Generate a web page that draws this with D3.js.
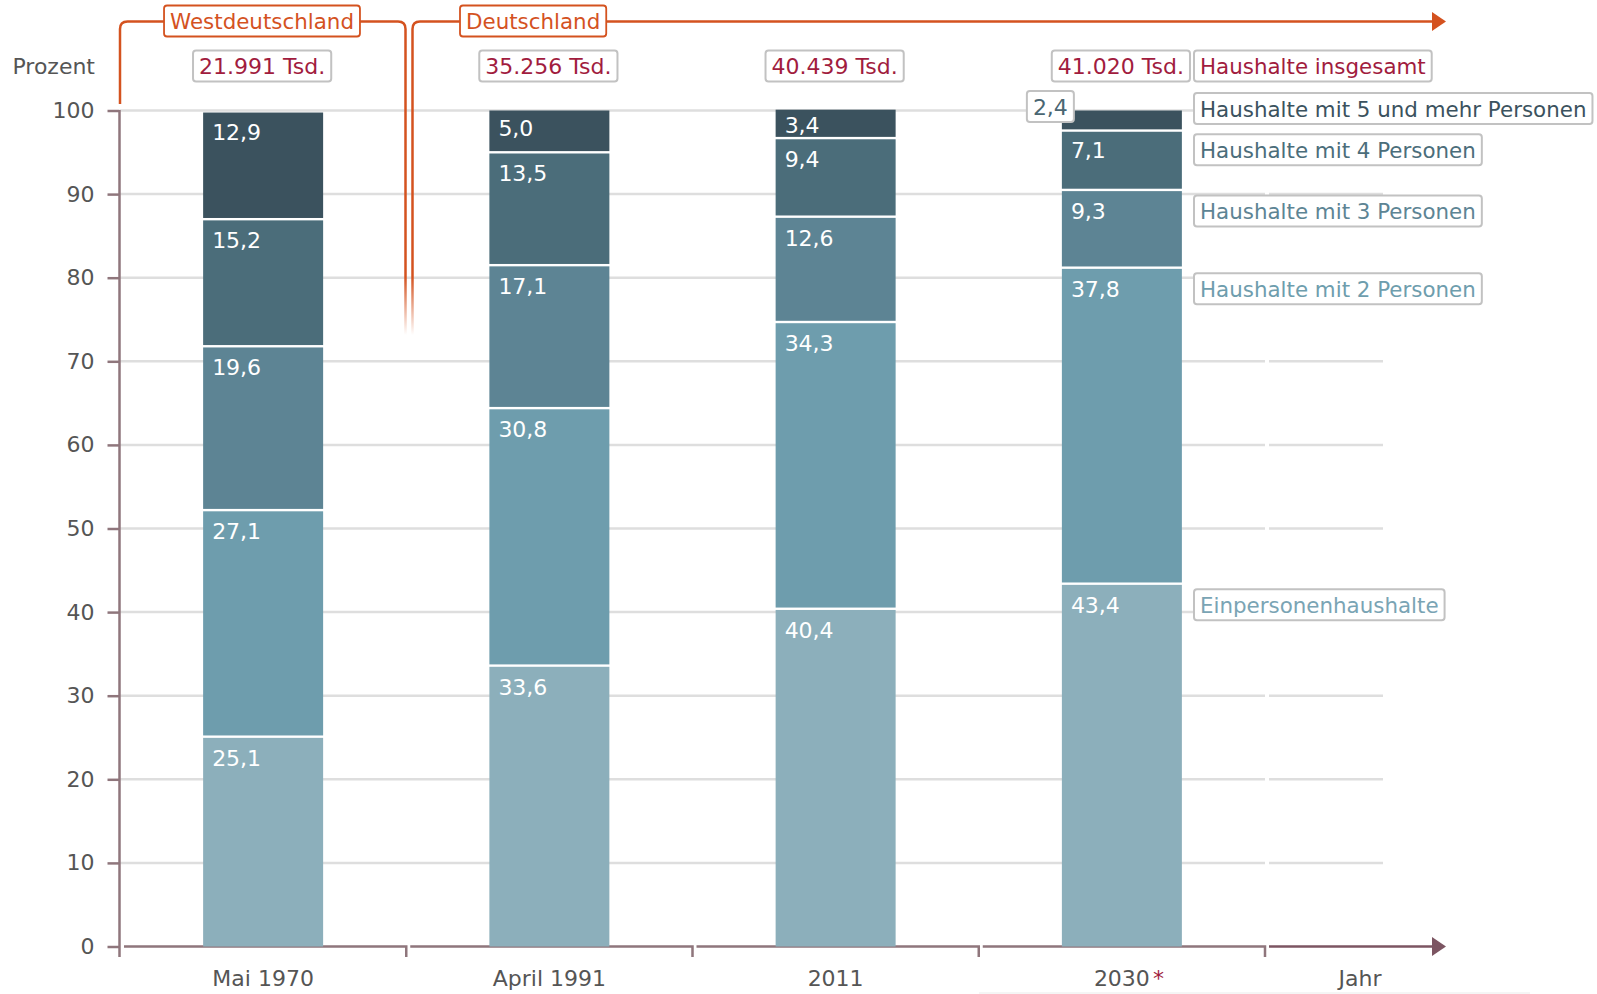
<!DOCTYPE html>
<html>
<head>
<meta charset="utf-8">
<script src="https://cdn.jsdelivr.net/npm/d3@7"></script>
<style>
  body { margin: 0; background: #fff; }
  svg text { font-family: "DejaVu Sans", Verdana, sans-serif; }
</style>
</head>
<body>
<svg id="chart" width="1597" height="994"></svg>
<script>
// Haushalte nach Haushaltsgroesse, Anteile in Prozent
const years = ["Mai 1970", "April 1991", "2011", "2030"];
const seriesNames = ["Einpersonenhaushalte", "Haushalte mit 2 Personen", "Haushalte mit 3 Personen",
                     "Haushalte mit 4 Personen", "Haushalte mit 5 und mehr Personen"];
const einPers = [25.1, 33.6, 40.4, 43.4];
const zweiPers = [27.1, 30.8, 34.3, 37.8];
const dreiPers = [19.6, 17.1, 12.6, 9.3];
const vierPers = [15.2, 13.5, 9.4, 7.1];
const fuenfPers = [12.9, 5.0, 3.4, 2.4];
const totals = ["21.991 Tsd.", "35.256 Tsd.", "40.439 Tsd.", "41.020 Tsd."];
const yTicks = [0, 10, 20, 30, 40, 50, 60, 70, 80, 90, 100];

const barColors = ["#8cafbb", "#6e9dad", "#5d8494", "#4b6d7a", "#3b525e"];
const legendColors = ["#7aa4b4", "#6e9dad", "#5d8494", "#4b6d7a", "#3b525e"];
const orange = "#d4521f", red = "#a11c3e", axisCol = "#8f767c", grey = "#555";
const fs = "22px", fsLegend = "21.4px";

const rows = years.map(function(y, i) {
  return {year: y, s0: einPers[i], s1: zweiPers[i], s2: dreiPers[i], s3: vierPers[i], s4: fuenfPers[i]};
});
const keys = ["s0", "s1", "s2", "s3", "s4"];
const stacked = d3.stack().keys(keys)(rows);

const fmt = d3.formatLocale({decimal: ",", thousands: ".", grouping: [3], currency: ["", ""]}).format(".1f");

const svg = d3.select("#chart");
const x = d3.scaleBand().domain(years).range([120, 1265]);
const y = d3.scaleLinear().domain([0, 100]).range([946.5, 110.5]);
const barW = 120;
const barX = function(d) { return x(d) + (x.bandwidth() - barW) / 2; };

// fade for the region brackets
const defs = svg.append("defs");
const grad = defs.append("linearGradient").attr("id", "fade")
  .attr("gradientUnits", "userSpaceOnUse").attr("x1", 0).attr("y1", 277).attr("x2", 0).attr("y2", 335);
grad.append("stop").attr("offset", 0).attr("stop-color", orange).attr("stop-opacity", 1);
grad.append("stop").attr("offset", 1).attr("stop-color", orange).attr("stop-opacity", 0);

// gridlines
const grid = svg.append("g");
yTicks.filter(function(t) { return t > 0; }).forEach(function(t) {
  grid.append("line").attr("x1", 120).attr("x2", 1265).attr("y1", y(t)).attr("y2", y(t))
    .attr("stroke", "#dedede").attr("stroke-width", 2.5);
  grid.append("line").attr("x1", 1269).attr("x2", 1383).attr("y1", y(t)).attr("y2", y(t))
    .attr("stroke", "#dedede").attr("stroke-width", 2.5);
});

// y axis
const yAxis = svg.append("g").attr("transform", "translate(119.5,0)")
  .call(d3.axisLeft(y).tickValues(yTicks).tickSize(12).tickSizeOuter(0).tickPadding(13));
yAxis.select(".domain").remove();
yAxis.selectAll(".tick line").attr("stroke", axisCol).attr("stroke-width", 2.5);
yAxis.selectAll(".tick text").attr("fill", grey).style("font-size", fs);
svg.append("line").attr("x1", 119.5).attr("x2", 119.5).attr("y1", 110).attr("y2", 957)
  .attr("stroke", axisCol).attr("stroke-width", 2.5);
svg.append("text").attr("x", 95).attr("y", 74).attr("text-anchor", "end")
  .attr("fill", grey).style("font-size", fs).text("Prozent");

// x axis brackets
svg.append("g").selectAll("path").data(years).enter().append("path")
  .attr("d", function(d) { return "M" + (x(d) + 4) + ",946.5H" + (x(d) + x.bandwidth()) + "V957"; })
  .attr("fill", "none").attr("stroke", axisCol).attr("stroke-width", 2.5);
svg.append("line").attr("x1", 1269).attr("x2", 1436).attr("y1", 946.5).attr("y2", 946.5)
  .attr("stroke", "#7c5562").attr("stroke-width", 2.5);
svg.append("path").attr("d", "M1432,937L1446,946.5L1432,956Z").attr("fill", "#7c5562");

const xAxis = svg.append("g").attr("transform", "translate(0,946.5)")
  .call(d3.axisBottom(x).tickSize(0).tickPadding(24));
xAxis.select(".domain").remove();
xAxis.selectAll(".tick text").attr("fill", grey).style("font-size", fs);
xAxis.selectAll(".tick").filter(function(d) { return d === "2030"; }).append("text")
  .attr("x", 31).attr("y", 24).attr("dy", "0.71em").attr("text-anchor", "start").attr("fill", red)
  .style("font-size", fs).text("*");
svg.append("text").attr("x", 1360).attr("y", 946.5 + 24).attr("dy", "0.71em").attr("text-anchor", "middle")
  .attr("fill", grey).style("font-size", fs).text("Jahr");
svg.append("line").attr("x1", 979).attr("x2", 1530).attr("y1", 993).attr("y2", 993)
  .attr("stroke", "#f2f2f2").attr("stroke-width", 1.5);

// bars
const gap = 1.2;
const layers = svg.append("g").selectAll("g").data(stacked).enter().append("g")
  .attr("fill", function(d, i) { return barColors[i]; });
layers.selectAll("rect").data(function(d) { return d; }).enter().append("rect")
  .attr("x", function(d) { return barX(d.data.year); })
  .attr("width", barW)
  .attr("y", function(d) { return y(d[1]) + (d[1] < 99.95 ? gap : 0); })
  .attr("height", function(d) {
    const top = y(d[1]) + (d[1] < 99.95 ? gap : 0);
    const bot = y(d[0]) - (d[0] > 0 ? gap : 0);
    return bot - top;
  });

// helper for framed labels
function boxLabel(parent, tx, ty, txt, color, frame, size) {
  const g = parent.append("g");
  const r = g.append("rect");
  const t = g.append("text").attr("x", tx).attr("y", ty).attr("fill", color)
    .style("font-size", size || fs).text(txt);
  const w = t.node().getComputedTextLength();
  r.attr("x", tx - 6).attr("y", ty - 23.5).attr("width", w + 12).attr("height", 31)
    .attr("rx", 3).attr("fill", "#fff").attr("stroke", frame).attr("stroke-width", 2);
  return g;
}

// value labels
const labels = svg.append("g");
function labelY(d) {
  const h = y(d[0]) - y(d[1]);
  return y(d[1]) + Math.min(29, 20 + h * 0.12);
}
stacked.forEach(function(layer, li) {
  layer.forEach(function(d) {
    const h = y(d[0]) - y(d[1]);
    if (h > 24) {
      labels.append("text").attr("x", barX(d.data.year) + 9).attr("y", labelY(d))
        .attr("fill", "#fff").style("font-size", fs).text(fmt(d[1] - d[0]));
    } else {
      boxLabel(labels, barX(d.data.year) - 29, y(d[1]) + 4, fmt(d[1] - d[0]), "#4a6672", "#c2c2c2");
    }
  });
});

// legend next to last bar
const last = years.length - 1;
stacked.forEach(function(layer, li) {
  const d = layer[last];
  const h = y(d[0]) - y(d[1]);
  const ty = h > 24 ? labelY(d) : y(d[1]) + 6;
  boxLabel(labels, 1200, ty, seriesNames[li], legendColors[li], "#c2c2c2", fsLegend);
});

// totals
years.forEach(function(yr, i) {
  const g = boxLabel(labels, 0, 74, totals[i], red, "#c2c2c2");
  const w = g.select("text").node().getComputedTextLength();
  g.attr("transform", "translate(" + (x(yr) + x.bandwidth() / 2 - w / 2 - 1) + ",0)");
});
boxLabel(labels, 1200, 74, "Haushalte insgesamt", red, "#c2c2c2", fsLegend);

// region brackets
svg.append("path").attr("d", "M120,104V29Q120,21.5 127.5,21.5H164M358,21.5H398Q405.5,21.5 405.5,29V335")
  .attr("fill", "none").attr("stroke", "url(#fade)").attr("stroke-width", 2.5);
svg.append("path").attr("d", "M412.5,335V29Q412.5,21.5 420,21.5H460M604,21.5H1434")
  .attr("fill", "none").attr("stroke", "url(#fade)").attr("stroke-width", 2.5);
svg.append("path").attr("d", "M1432,12L1446,21.5L1432,31Z").attr("fill", orange);

const wd = boxLabel(svg, 0, 29, "Westdeutschland", orange, orange, "21.4px");
const wdw = wd.select("text").node().getComputedTextLength();
wd.attr("transform", "translate(" + (262 - wdw / 2) + ",0)");
wd.select("rect").attr("stroke-width", 1.8);
const de = boxLabel(svg, 466, 29, "Deutschland", orange, orange, "21.4px");
de.select("rect").attr("stroke-width", 1.8);
</script>
</body>
</html>
